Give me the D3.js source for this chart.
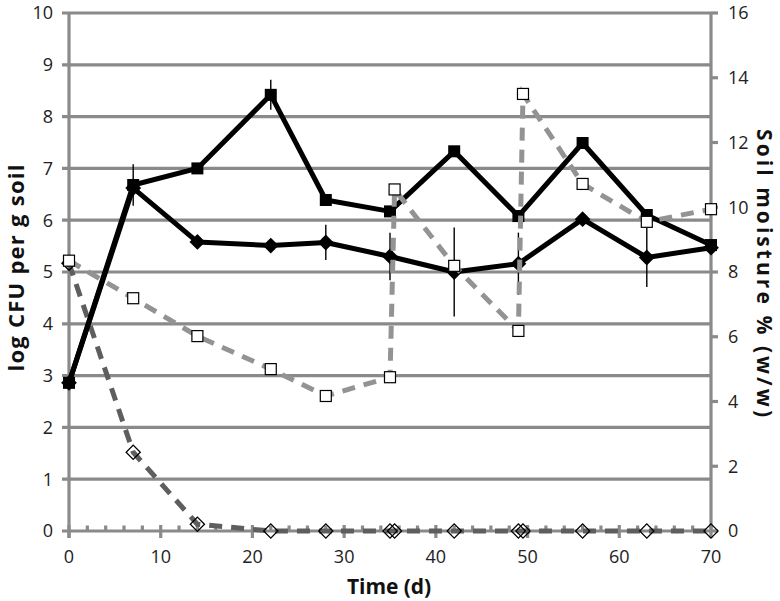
<!DOCTYPE html>
<html>
<head>
<meta charset="utf-8">
<script src="https://cdn.jsdelivr.net/npm/d3@7"></script>
<style>
  html, body { margin: 0; padding: 0; background: #fff; }
  svg { display: block; font-family: "Open Sans", "DejaVu Sans", sans-serif; }
</style>
</head>
<body>
<svg id="chart" width="780" height="601"></svg>
<script>
// ---- data ----
const days = [0, 7, 14, 22, 28, 35, 42, 49, 56, 63, 70];
const logCfuSquares = [2.86, 6.68, 7.0, 8.42, 6.39, 6.17, 7.33, 6.08, 7.49, 6.1, 5.52];
const errSquares = [0, 0.4, 0, 0.29, 0, 0, 0, 0, 0, 0, 0];
const logCfuDiamonds = [2.86, 6.62, 5.58, 5.51, 5.57, 5.3, 5.0, 5.16, 6.02, 5.28, 5.47];
const errDiamonds = [0, 0, 0, 0, 0.34, 0.46, 0.86, 0.6, 0, 0.57, 0];

const moistureDays = [0, 7, 14, 22, 28, 35, 35.5, 42, 49, 49.5, 56, 63, 70];
const moisture = [8.35, 7.19, 6.02, 5.0, 4.17, 4.75, 10.55, 8.19, 6.18, 13.5, 10.72, 9.55, 9.94];

const dieOffDays = [0, 7, 14, 22, 28, 35, 35.5, 42, 49, 49.5, 56, 63, 70];
const dieOffLog = [5.17, 1.52, 0.13, 0, 0, 0, 0, 0, 0, 0, 0, 0, 0];

const xTicks = [0, 10, 20, 30, 40, 50, 60, 70];
const yLeftTicks = [0, 1, 2, 3, 4, 5, 6, 7, 8, 9, 10];
const yRightTicks = [0, 2, 4, 6, 8, 10, 12, 14, 16];

const xLabel = "Time (d)";
const yLeftLabel = "log CFU per g soil";
const yRightLabel = "Soil moisture % (w/w)";

// ---- layout ----
const svg = d3.select("#chart");
const L = 69, R = 711, T = 13, B = 531;
const x = d3.scaleLinear().domain([0, 70]).range([L, R]);
const yL = d3.scaleLinear().domain([0, 10]).range([B, T]);
const yR = d3.scaleLinear().domain([0, 16]).range([B, T]);

const gridCol = "#8a8a8a";

// gridlines
svg.append("g").selectAll("line").data(yLeftTicks).join("line")
  .attr("x1", L - 7).attr("x2", R).attr("y1", d => yL(d)).attr("y2", d => yL(d))
  .attr("stroke", gridCol).attr("stroke-width", 3.2);

// left axis line
svg.append("line").attr("x1", L).attr("x2", L).attr("y1", T).attr("y2", B + 7)
  .attr("stroke", gridCol).attr("stroke-width", 3.2);
// right axis line
svg.append("line").attr("x1", R).attr("x2", R).attr("y1", T).attr("y2", B)
  .attr("stroke", gridCol).attr("stroke-width", 3.2);
// right ticks
svg.append("g").selectAll("line").data(yRightTicks).join("line")
  .attr("x1", R).attr("x2", R + 7).attr("y1", d => yR(d)).attr("y2", d => yR(d))
  .attr("stroke", gridCol).attr("stroke-width", 3.2);
// x major ticks
svg.append("g").selectAll("line").data(xTicks).join("line")
  .attr("x1", d => x(d)).attr("x2", d => x(d)).attr("y1", B - 6).attr("y2", B + 7)
  .attr("stroke", gridCol).attr("stroke-width", 3.2);
// x minor ticks
svg.append("g").selectAll("line").data(d3.range(0, 71, 2).filter(d => d % 10 !== 0)).join("line")
  .attr("x1", d => x(d)).attr("x2", d => x(d)).attr("y1", B - 5.5).attr("y2", B)
  .attr("stroke", gridCol).attr("stroke-width", 3.2);

// tick labels
const fs = 18;
svg.append("g").selectAll("text").data(yLeftTicks).join("text")
  .attr("x", 53).attr("y", d => yL(d)).attr("dy", "0.35em")
  .attr("text-anchor", "end").attr("font-size", fs).attr("fill", "#222")
  .text(d => d);
svg.append("g").selectAll("text").data(yRightTicks).join("text")
  .attr("x", 728).attr("y", d => yR(d)).attr("dy", "0.35em")
  .attr("text-anchor", "start").attr("font-size", fs).attr("fill", "#222")
  .text(d => d);
svg.append("g").selectAll("text").data(xTicks).join("text")
  .attr("x", d => x(d)).attr("y", 563)
  .attr("text-anchor", "middle").attr("font-size", fs).attr("fill", "#222")
  .text(d => d);

// axis titles
svg.append("text").attr("x", 389).attr("y", 594).attr("text-anchor", "middle")
  .attr("font-size", 21).attr("font-weight", "bold").attr("fill", "#111")
  .attr("textLength", 84).attr("lengthAdjust", "spacing").text(xLabel);
svg.append("text").attr("transform", "translate(24,268) rotate(-90)").attr("text-anchor", "middle")
  .attr("font-size", 22).attr("font-weight", "bold").attr("fill", "#111")
  .attr("textLength", 207).attr("lengthAdjust", "spacing").text(yLeftLabel);
svg.append("text").attr("transform", "translate(757,273) rotate(90)").attr("text-anchor", "middle")
  .attr("font-size", 21).attr("font-weight", "bold").attr("fill", "#111")
  .attr("textLength", 288).attr("lengthAdjust", "spacing").text(yRightLabel);

// ---- series ----
// die-off dashed dark gray (left axis)
const dieData = dieOffDays.map((d, i) => [d, dieOffLog[i]]);
svg.append("path").datum(dieData)
  .attr("d", d3.line().x(d => x(d[0])).y(d => yL(d[1])))
  .attr("fill", "none").attr("stroke", "#5e5e5e").attr("stroke-width", 5)
  .attr("stroke-dasharray", "13,9");

// black lines
const sqData = days.map((d, i) => [d, logCfuSquares[i], errSquares[i]]);
const diData = days.map((d, i) => [d, logCfuDiamonds[i], errDiamonds[i]]);
const lineL = d3.line().x(d => x(d[0])).y(d => yL(d[1]));

// error bars
svg.append("g").selectAll("line").data(sqData.concat(diData).filter(d => d[2] > 0)).join("line")
  .attr("x1", d => x(d[0])).attr("x2", d => x(d[0]))
  .attr("y1", d => yL(d[1] + d[2])).attr("y2", d => yL(d[1] - d[2]))
  .attr("stroke", "#000").attr("stroke-width", 1.4);

svg.append("path").datum(sqData).attr("d", lineL)
  .attr("fill", "none").attr("stroke", "#000").attr("stroke-width", 5).attr("stroke-linejoin", "round");
svg.append("path").datum(diData).attr("d", lineL)
  .attr("fill", "none").attr("stroke", "#000").attr("stroke-width", 5).attr("stroke-linejoin", "round");

svg.append("g").selectAll("rect").data(sqData).join("rect")
  .attr("x", d => x(d[0]) - 6).attr("y", d => yL(d[1]) - 6)
  .attr("width", 12).attr("height", 12).attr("fill", "#000");
svg.append("g").selectAll("path").data(diData).join("path")
  .attr("transform", d => `translate(${x(d[0])},${yL(d[1])}) rotate(45)`)
  .attr("d", d3.symbol().type(d3.symbolSquare).size(125)).attr("fill", "#000");

// die-off diamonds (open)
svg.append("g").selectAll("path").data(dieData).join("path")
  .attr("transform", d => `translate(${x(d[0])},${yL(d[1])}) rotate(45)`)
  .attr("d", d3.symbol().type(d3.symbolSquare).size(100))
  .attr("fill", "none").attr("stroke", "#000").attr("stroke-width", 1.3);

// moisture dashed light gray (right axis)
const moData = moistureDays.map((d, i) => [d, moisture[i]]);
svg.append("path").datum(moData)
  .attr("d", d3.line().x(d => x(d[0])).y(d => yR(d[1])))
  .attr("fill", "none").attr("stroke", "#939393").attr("stroke-width", 5)
  .attr("stroke-dasharray", "13,9");
svg.append("g").selectAll("rect").data(moData).join("rect")
  .attr("x", d => x(d[0]) - 5.5).attr("y", d => yR(d[1]) - 5.5)
  .attr("width", 11).attr("height", 11).attr("fill", "#fff")
  .attr("stroke", "#000").attr("stroke-width", 1.2);
</script>
</body>
</html>
